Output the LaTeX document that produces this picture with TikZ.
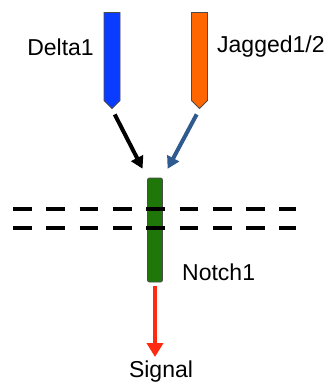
\documentclass[tikz,border=0pt]{standalone}
\usepackage{fontspec}
\setmainfont{Liberation Sans}
\usepackage{tikz}
\usetikzlibrary{arrows.meta}
\usetikzlibrary{shapes.symbols}

\definecolor{deltablue}{HTML}{0A3CFF}
\definecolor{jagorange}{HTML}{FF6600}
\definecolor{notchgreen}{HTML}{1F770A}
\definecolor{arrblue}{HTML}{2F5A8F}
\definecolor{sigred}{HTML}{FF2A10}

\begin{document}
\begin{tikzpicture}[x=1pt, y=-1pt,
    ligand/.style={signal, signal to=south, signal from=nowhere, draw=black!70,
                   line width=0.8pt, minimum width=16pt, minimum height=88pt,
                   inner sep=0pt},
    label/.style={font=\fontsize{23}{27}\selectfont, inner sep=0pt},
    bind/.style={line width=4pt, -{Triangle[length=12pt, width=13pt]}},
    membrane/.style={line width=4.5pt, dash pattern=on 18.7pt off 14.6pt}]
\useasboundingbox (0,0) rectangle (332,384);
\node[ligand, fill=deltablue] (delta)  at (112, 56.5) {};
\node[ligand, fill=jagorange] (jagged) at (199.5, 56.5) {};
\node[draw=black!70, line width=0.8pt, fill=notchgreen, rounded corners=2pt,
      minimum width=15pt, minimum height=104pt, inner sep=0pt] (notch) at (155, 230) {};
\node[label, anchor=east] (deltalbl)  at (94, 47)  {Delta1};
\node[label, anchor=west] (jaggedlbl) at (217, 47) {Jagged1/2};
\node[label, anchor=west] (notchlbl)  at (182, 272) {Notch1};
\node[label] (signal) at (161, 372) {Signal};
% membrane
\coordinate (m1l) at (13, 209);  \coordinate (m1r) at (296, 209);
\coordinate (m2l) at (13, 228);  \coordinate (m2r) at (296, 228);
\draw[membrane] (m1l) -- (m1r);
\draw[membrane] (m2l) -- (m2r);
% binding and signal
\coordinate (sigtip) at (155, 357);
\draw[bind, black, shorten <=6pt, shorten >=10pt] (delta.south) -- (notch.north west);
\draw[bind, arrblue, shorten <=6pt, shorten >=10pt] (jagged.south) -- (notch.north east);
\draw[line width=4pt, sigred, shorten <=4pt, -{Triangle[length=14pt, width=16pt]}]
    (notch.south) -- (sigtip);
\end{tikzpicture}
\end{document}
